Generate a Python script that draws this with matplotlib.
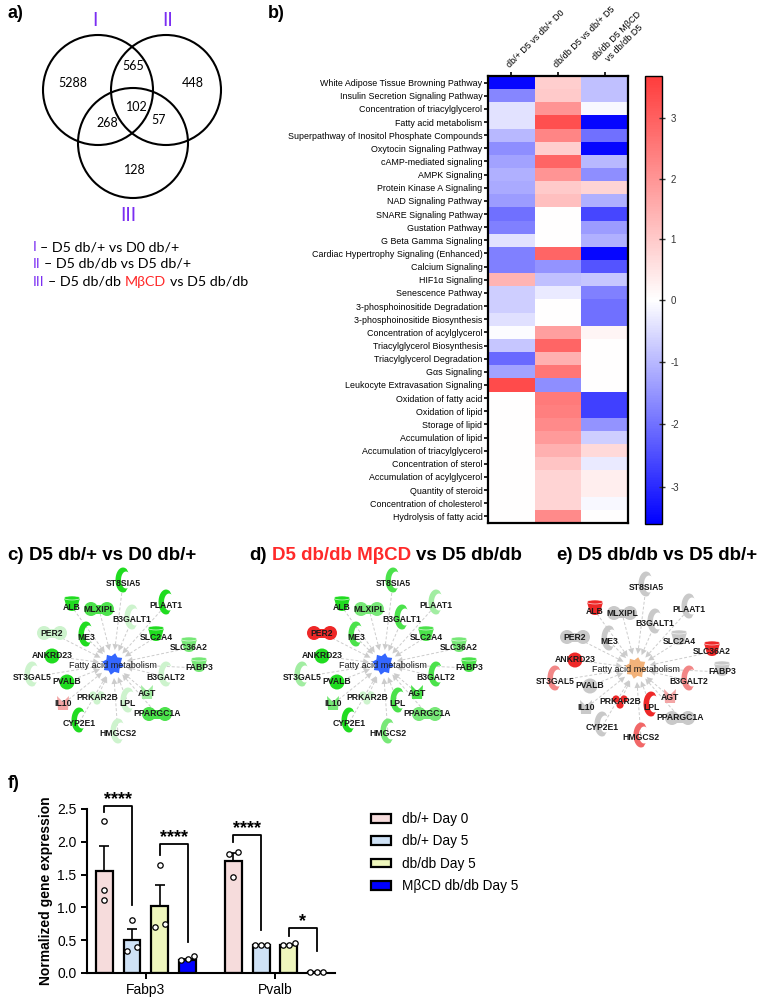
import numpy as np
import matplotlib
matplotlib.use('Agg')
import matplotlib.pyplot as plt
from matplotlib.colors import LinearSegmentedColormap, TwoSlopeNorm, to_rgb
from matplotlib.patches import Circle, Ellipse, Polygon, Rectangle

plt.rcParams['font.family'] = ['Liberation Sans', 'DejaVu Sans']

# ---------------- data ----------------
venn_counts = {'I': 5288, 'I&II': 565, 'II': 448, 'I&II&III': 102,
               'I&III': 268, 'II&III': 57, 'III': 128}

pathways = [
    'White Adipose Tissue Browning Pathway', 'Insulin Secretion Signaling Pathway',
    'Concentration of triacylglycerol', 'Fatty acid metabolism',
    'Superpathway of Inositol Phosphate Compounds', 'Oxytocin Signaling Pathway',
    'cAMP-mediated signaling', 'AMPK Signaling', 'Protein Kinase A Signaling',
    'NAD Signaling Pathway', 'SNARE Signaling Pathway', 'Gustation Pathway',
    'G Beta Gamma Signaling', 'Cardiac Hypertrophy Signaling (Enhanced)',
    'Calcium Signaling', 'HIF1α Signaling', 'Senescence Pathway',
    '3-phosphoinositide Degradation', '3-phosphoinositide Biosynthesis',
    'Concentration of acylglycerol', 'Triacylglycerol Biosynthesis',
    'Triacylglycerol Degradation', 'Gαs Signaling', 'Leukocyte Extravasation Signaling',
    'Oxidation of fatty acid', 'Oxidation of lipid', 'Storage of lipid',
    'Accumulation of lipid', 'Accumulation of triacylglycerol', 'Concentration of sterol',
    'Accumulation of acylglycerol', 'Quantity of steroid', 'Concentration of cholesterol',
    'Hydrolysis of fatty acid']
comparisons = ['db/+ D5 vs db/+ D0', 'db/db D5 vs db/+ D5', 'db/db D5 MβCD\nvs db/db D5']
z_dbplus_d5_vs_d0 = [-3.5, -1.7, -0.4, -0.4, -1.0, -1.6, -1.3, -1.1, -1.2, -1.4,
                     -2.0, -1.8, -0.4, -1.8, -1.8, 1.4, -0.7, -0.7, -0.45, -0.05,
                     -0.8, -2.1, -1.3, 3.4, 0, 0, 0, 0, 0, 0, 0, 0, 0, 0]
z_dbdb_vs_dbplus = [0.9, 1.0, 2.0, 3.3, 2.3, 0.9, 2.9, 2.0, 1.0, 1.2,
                    0, 0, 0, 2.9, -1.5, -0.9, -0.3, 0, 0, 1.8,
                    2.9, 1.5, 2.6, -1.6, 2.5, 2.4, 2.2, 1.9, 1.5, 1.1,
                    0.8, 0.8, 0.8, 2.2]
z_mbcd_vs_dbdb = [-0.9, -0.9, -0.1, -3.5, -2.0, -3.5, -1.0, -1.6, 0.8, -1.1,
                  -2.6, -1.4, -1.1, -3.5, -2.4, -0.8, -1.8, -2.0, -2.0, 0.2,
                  0, 0, 0, 0, -2.7, -2.7, -1.5, -0.7, 0.7, -0.3,
                  0.3, 0.3, -0.1, 0]

genes = ['ST8SIA5', 'PLAAT1', 'ALB', 'MLXIPL', 'B3GALT1', 'PER2', 'ME3', 'SLC2A4',
         'SLC36A2', 'ANKRD23', 'FABP3', 'ST3GAL5', 'PVALB', 'B3GALT2', 'AGT',
         'PRKAR2B', 'IL10', 'LPL', 'PPARGC1A', 'CYP2E1', 'HMGCS2']
gene_type = ['enzyme', 'enzyme', 'transporter', 'tr', 'enzyme', 'tr', 'enzyme', 'transporter',
             'transporter', 'other', 'transporter', 'enzyme', 'other', 'enzyme', 'growth',
             'kinase', 'cytokine', 'enzyme', 'tr', 'enzyme', 'enzyme']
# expression level: negative = down (green), positive = up (red), 0 = not changed
lvl_c = [-3, -3, -3, -2.5, -1, -1, -3, -3, -2, -3, -2, -1, -3, -1, -1.5, -1, 1, -1, -2.5, -3, -1]
lvl_d = [-2.5, -1.5, -3, -2, -2.5, 3, -2.5, -2.5, -2, -3, -2.5, -1.5, -3, -2.5, -2.5, -1, -2, -2.5, -2, -3, -2]
lvl_e = [0, 0, 3, 0, 0, 0, 0, 0, 3, 3, 0, 1.5, 0, 1.5, 1, 3, 0, 3, 0, 0, 2]

genes_f = ['Fabp3', 'Pvalb']
groups = ['db/+ Day 0', 'db/+ Day 5', 'db/db Day 5', 'MβCD db/db Day 5']
mean_expr = [[1.55, 0.51, 1.02, 0.20], [1.70, 0.42, 0.42, 0.01]]
sem_expr = [[0.39, 0.16, 0.32, 0.02], [0.13, 0.005, 0.01, 0.002]]
replicates = [[[2.31, 1.26, 1.11], [0.81, 0.34, 0.40], [1.65, 0.70, 0.74], [0.21, 0.26, 0.20]],
              [[1.85, 1.81, 1.46], [0.43, 0.43, 0.43], [0.43, 0.45, 0.43], [0.01, 0.01, 0.01]]]
# (gene, group a, group b, bracket top, foot a, foot b, label)
signif = [(0, 0, 1, 2.55, 2.45, 1.03, '****'), (0, 2, 3, 1.96, 1.80, 0.48, '****'),
          (1, 0, 1, 2.10, 1.99, 0.66, '****'), (1, 2, 3, 0.69, 0.57, 0.33, '*')]

# ---------------- figure ----------------
W, H = 758, 998
fig = plt.figure(figsize=(W / 100, H / 100), dpi=100)
renderer = fig.canvas.get_renderer()


def px_axes(left, top, width, height):
    return fig.add_axes([left / W, 1 - (top + height) / H, width / W, height / H])


def colored_text(x, y, parts, **kw):
    # parts drawn one after another, with a space between them
    probe = fig.text(0, 0, 'x x', **kw)
    probe2 = fig.text(0, 0, 'xx', **kw)
    gap = probe.get_window_extent(renderer).width - probe2.get_window_extent(renderer).width
    probe.remove()
    probe2.remove()
    for s, c in parts:
        t = fig.text(x / W, 1 - y / H, s, color=c, ha='left', va='center', **kw)
        x = t.get_window_extent(renderer).x1 + gap


purple = '#7B2EF2'
red_txt = '#FF2A2A'

# panel letters
for lab, (x, y) in {'a)': (8, 13), 'b)': (268, 13), 'f)': (8, 783)}.items():
    fig.text(x / W, 1 - y / H, lab, fontsize=13, fontweight='bold', va='center')

# ---- a) Venn ----
ax_v = px_axes(0, 0, 260, 300)
ax_v.set_xlim(0, 260)
ax_v.set_ylim(300, 0)
ax_v.axis('off')
for cx, cy in [(98, 90), (166, 90), (133, 143)]:
    ax_v.add_patch(Circle((cx, cy), 55, fill=False, lw=1.5, ec='black'))
venn_pos = {'I': (73, 83), 'I&II': (133, 66), 'II': (193, 83), 'I&II&III': (137, 107),
            'I&III': (107, 123), 'II&III': (159, 120), 'III': (135, 170)}
for k, v in venn_counts.items():
    ax_v.text(*venn_pos[k], str(v), ha='center', va='center', fontsize=9, family='Lato')
for lab, (x, y) in {'I': (95, 20), 'II': (168, 20), 'III': (128, 215)}.items():
    ax_v.text(x, y, lab, ha='center', va='center', fontsize=14, color=purple, family='Lato')

kw_a = dict(fontsize=10.3, family='Lato')
colored_text(33, 247, [('I', purple), ('– D5 db/+ vs D0 db/+', 'black')], **kw_a)
colored_text(33, 264, [('II', purple), ('– D5 db/db vs D5 db/+', 'black')], **kw_a)
colored_text(33, 282, [('III', purple), ('– D5 db/db', 'black'), ('MβCD', red_txt),
                       ('vs D5 db/db', 'black')], **kw_a)

# ---- b) heatmap ----
Z = np.column_stack([z_dbplus_d5_vs_d0, z_dbdb_vs_dbplus, z_mbcd_vs_dbdb])
cmap = LinearSegmentedColormap.from_list('bwr2', ['#0000FF', '#FFFFFF', '#FF3C3C'])
norm = TwoSlopeNorm(vcenter=0, vmin=-3.6, vmax=3.7)
ax_h = px_axes(488, 76, 140, 447)
im = ax_h.imshow(Z, cmap=cmap, norm=norm, aspect='auto', interpolation='nearest')
ax_h.set_yticks(range(len(pathways)))
ax_h.set_yticklabels(pathways, fontsize=6.4)
ax_h.xaxis.tick_top()
ax_h.set_xticks(range(len(comparisons)))
ax_h.set_xticklabels(comparisons, fontsize=6.5, rotation=45, ha='left',
                     rotation_mode='anchor', multialignment='center')
ax_h.tick_params(axis='y', length=3, width=1.2, pad=1)
ax_h.tick_params(axis='x', length=3, width=1.2, pad=2)
for sp in ax_h.spines.values():
    sp.set_linewidth(1.6)

cax = px_axes(645, 76, 17, 448)
cb = fig.colorbar(im, cax=cax, ticks=[-3, -2, -1, 0, 1, 2, 3])
cb.outline.set_linewidth(1.0)
cb.ax.tick_params(labelsize=7, direction='inout', length=5, width=1, colors='#333333')
cb.ax.set_yticklabels(['-3', '-2', '-1', '0', '1', '2', '3'])

# ---- c) d) e) networks ----
node_pos = {'ST8SIA5': (10, -81), 'PLAAT1': (53, -59), 'ALB': (-41, -57), 'MLXIPL': (-14, -55),
            'B3GALT1': (19, -44), 'PER2': (-61, -31), 'ME3': (-27, -27), 'SLC2A4': (43, -27),
            'SLC36A2': (76, -16), 'ANKRD23': (-61, -8), 'FABP3': (86, 4), 'ST3GAL5': (-81, 13),
            'PVALB': (-46, 18), 'B3GALT2': (53, 13), 'AGT': (34, 29), 'PRKAR2B': (-16, 34),
            'IL10': (-50, 40), 'LPL': (15, 39), 'PPARGC1A': (44, 50), 'CYP2E1': (-34, 59),
            'HMGCS2': (5, 70)}


def level_color(l):
    if l == 0:
        return '#C9C9C9'
    t = min((abs(l) - 1) / 2, 1)
    lo, hi = (('#CDF3CD', '#20DC20') if l < 0 else ('#F3A6A6', '#EE2828'))
    lo, hi = np.array(to_rgb(lo)), np.array(to_rgb(hi))
    return tuple(lo + (hi - lo) * t)


def draw_shape(ax, kind, x, y, c):
    if kind == 'enzyme':
        t = np.linspace(np.radians(70), np.radians(300), 30)
        h = 25
        outer = np.c_[x + 0.3 * h * np.cos(t), y - 3 + 0.5 * h * np.sin(t)]
        inner = np.c_[x + 0.12 * h + 0.2 * h * np.cos(t[::-1]), y - 3 + 0.34 * h * np.sin(t[::-1])]
        ax.add_patch(Polygon(np.vstack([outer, inner]), fc=c, ec='none'))
    elif kind == 'transporter':
        ax.add_patch(Polygon([(x - 8, y - 9), (x + 8, y - 9), (x + 5, y + 2), (x - 5, y + 2)],
                             fc=c, ec='none'))
        ax.add_patch(Ellipse((x, y + 1), 10, 6, fc=c, ec='none'))
        ax.add_patch(Ellipse((x, y - 9), 16, 4, fc=c, ec='white', lw=0.4))
    elif kind == 'tr':
        for dx in (-8, 8):
            ax.add_patch(Circle((x + dx, y), 7, fc=c, ec='none'))
        ax.add_patch(Rectangle((x - 8, y - 4.5), 16, 9, fc=c, ec='none'))
    elif kind == 'other':
        ax.add_patch(Circle((x, y), 7.5, fc=c, ec='none'))
    elif kind == 'kinase':
        for dx, dy in [(-4, -3), (4, -3), (0, 3)]:
            ax.add_patch(Circle((x + dx, y + dy), 3.6, fc=c, ec='none'))
    else:
        ax.add_patch(Polygon([(x - 6, y - 8), (x, y - 2), (x + 6, y - 8), (x + 5, y + 6),
                              (x - 5, y + 6)], fc=c, ec='none'))


def draw_network(left, top, levels, center_color):
    ax = px_axes(left, top, 220, 200)
    ax.set_xlim(-110, 110)
    ax.set_ylim(100, -100)
    ax.set_aspect('equal')
    ax.axis('off')
    for g in genes:
        x, y = node_pos[g]
        r = np.hypot(x, y)
        u = np.array([x, y]) / r
        p = np.array([-u[1], u[0]])
        ax.plot([u[0] * 20, x], [u[1] * 20, y], color='#CCCCCC', lw=0.7,
                dashes=(3, 2), zorder=1)
        tip, base = u * 14, u * 20
        ax.add_patch(Polygon([tip, base + p * 3, base - p * 3], fc='#CCCCCC', ec='none', zorder=1))
    for g, k, l in zip(genes, gene_type, levels):
        x, y = node_pos[g]
        draw_shape(ax, k, x, y, level_color(l))
        ax.text(x, y, g, fontsize=6.2, fontweight='bold', ha='center', va='center',
                color='#1A1A1A', zorder=5)
    ang = np.linspace(0, 2 * np.pi, 17)[:-1]
    rad = np.where(np.arange(16) % 2 == 0, 11, 8)
    ax.add_patch(Polygon(np.c_[rad * np.cos(ang + 0.2), rad * np.sin(ang + 0.2)],
                         fc=center_color, ec='none', zorder=3))
    ax.text(0, 1, 'Fatty acid metabolism', fontsize=6.5, ha='center', va='center',
            color='#1A1A1A', zorder=6)


draw_network(3, 564, lvl_c, '#3366FF')
draw_network(273, 564, lvl_d, '#3366FF')
draw_network(526, 568, lvl_e, '#F2B27A')

kw_t = dict(fontsize=13.5, fontweight='bold')
colored_text(7, 555, [('c)', 'black'), ('D5 db/+ vs D0 db/+', 'black')], **kw_t)
colored_text(249, 555, [('d)', 'black'), ('D5 db/db MβCD', red_txt), ('vs D5 db/db', 'black')], **kw_t)
colored_text(556, 555, [('e)', 'black'), ('D5 db/db vs D5 db/+', 'black')], **kw_t)

# ---- f) bar chart ----
bar_colors = ['#F6DCDC', '#CFE2F6', '#EEF6BC', '#0000FF']
ax_b = px_axes(87, 809, 248, 164)
step, bw = 0.215, 0.13
offs = (np.arange(4) - 1.5) * step
handles = []
for gi in range(len(genes_f)):
    for k in range(4):
        xc = gi + offs[k]
        b = ax_b.bar(xc, mean_expr[gi][k], bw, color=bar_colors[k], edgecolor='black',
                     linewidth=1.6, zorder=2)
        if gi == 0:
            handles.append(b[0])
        ax_b.errorbar(xc, mean_expr[gi][k], yerr=[[0], [sem_expr[gi][k]]], fmt='none',
                      ecolor='black', elinewidth=1.2, capsize=3.5, capthick=1.2, zorder=1)
        vals = np.array(replicates[gi][k])
        order = np.argsort(vals)
        xo = np.zeros(len(vals))
        # spread points that sit close to each other
        clusters, cur = [], [order[0]]
        for a, bidx in zip(order[:-1], order[1:]):
            if (vals[bidx] - vals[a]) * 65.7 < 7:
                cur.append(bidx)
            else:
                clusters.append(cur)
                cur = [bidx]
        clusters.append(cur)
        for cl in clusters:
            n = len(cl)
            if n > 1:
                s = 0.049 if n > 2 else 0.075
                for j, idx in enumerate(cl):
                    xo[idx] = (j - (n - 1) / 2) * s
        ax_b.scatter(xc + xo, vals, s=15, facecolor='white', edgecolor='black',
                     linewidth=0.9, zorder=4, clip_on=False)

for gi, a, b2, top, fa, fb, lab in signif:
    xa, xb = gi + offs[a], gi + offs[b2]
    ax_b.plot([xa, xa, xb, xb], [fa, top, top, fb], color='black', lw=1.3,
              clip_on=False, zorder=5)
    ax_b.text((xa + xb) / 2, top - 0.03, lab, ha='center', va='bottom', fontsize=13,
              fontweight='bold', clip_on=False)

ax_b.set_xlim(-0.457, 1.465)
ax_b.set_ylim(0, 2.5)
ax_b.set_yticks(np.arange(0, 2.51, 0.5))
ax_b.set_yticklabels([f'{v:.1f}' for v in np.arange(0, 2.51, 0.5)])
ax_b.set_xticks(range(len(genes_f)))
ax_b.set_xticklabels(genes_f)
ax_b.tick_params(labelsize=10, width=1.4, length=4)
ax_b.set_ylabel('Normalized gene expression', fontsize=10, fontweight='bold', labelpad=3)
for sp in ['top', 'right']:
    ax_b.spines[sp].set_visible(False)
for sp in ['left', 'bottom']:
    ax_b.spines[sp].set_linewidth(1.5)

fig.legend(handles, groups, loc='upper left', bbox_to_anchor=(371 / W, 1 - 812 / H),
           frameon=False, fontsize=9.8, handlelength=1.5, handleheight=0.6,
           handletextpad=0.8, labelspacing=0.62, borderaxespad=0, borderpad=0)

fig.savefig('out.png', dpi=100)
